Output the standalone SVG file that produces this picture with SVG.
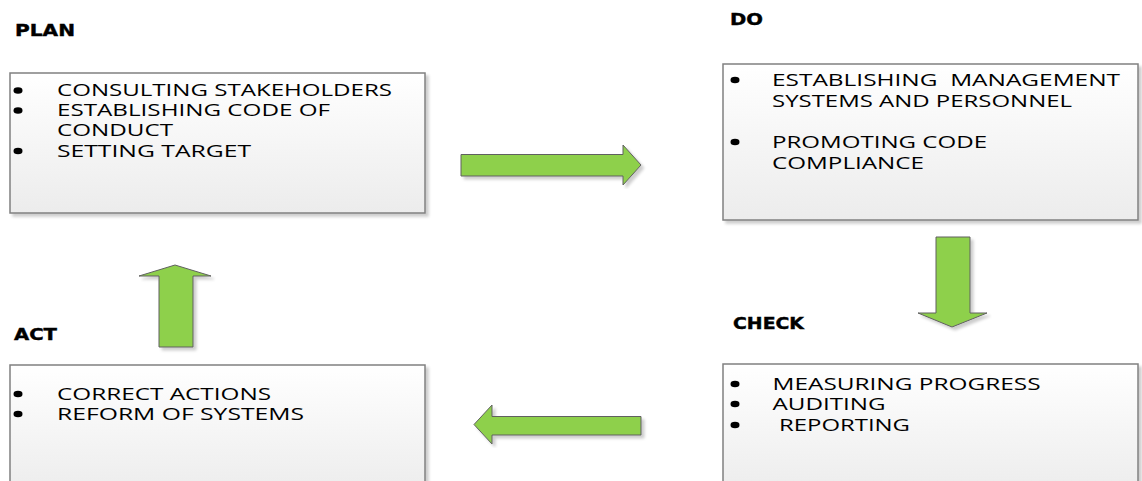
<svg xmlns="http://www.w3.org/2000/svg" width="1142" height="481" viewBox="0 0 1142 481">
<defs>
<linearGradient id="boxfill" x1="0" y1="0" x2="0" y2="1">
<stop offset="0" stop-color="#ffffff"/>
<stop offset="1" stop-color="#ececec"/>
</linearGradient>
<filter id="sh" x="-5%" y="-5%" width="115%" height="115%">
<feGaussianBlur in="SourceAlpha" stdDeviation="1.5"/>
<feOffset dx="3" dy="3" result="b"/>
<feComponentTransfer><feFuncA type="linear" slope="0.2"/></feComponentTransfer>
<feMerge><feMergeNode/><feMergeNode in="SourceGraphic"/></feMerge>
</filter>
</defs>
<style>
.box{fill:url(#boxfill);stroke:#808080;stroke-width:1.5;filter:url(#sh)}
.arrow{fill:#8ed04b;stroke:#606060;stroke-width:1;filter:url(#sh)}
.title{font-family:"DejaVu Sans",sans-serif;font-weight:bold;font-size:15.5px;fill:#000;stroke:#000;stroke-width:0.4}
.item{font-family:"Open Sans","Liberation Sans",sans-serif;font-size:16px;fill:#000}
.bul{fill:#000}
</style>
<rect width="1142" height="481" fill="#ffffff"/>

<g id="plan">
<text class="title" x="15" y="35.5" textLength="60" lengthAdjust="spacingAndGlyphs">PLAN</text>
<rect class="box" x="10" y="73" width="415" height="140"/>
<ellipse class="bul" cx="18" cy="90.5" rx="4.5" ry="3.2"/>
<ellipse class="bul" cx="18" cy="110.5" rx="4.5" ry="3.2"/>
<ellipse class="bul" cx="18" cy="151" rx="4.5" ry="3.2"/>
<text class="item" x="57" y="96" textLength="335" lengthAdjust="spacingAndGlyphs">CONSULTING STAKEHOLDERS</text>
<text class="item" x="57" y="116" textLength="273" lengthAdjust="spacingAndGlyphs">ESTABLISHING CODE OF</text>
<text class="item" x="57" y="136" textLength="116" lengthAdjust="spacingAndGlyphs">CONDUCT</text>
<text class="item" x="57" y="156.5" textLength="194" lengthAdjust="spacingAndGlyphs">SETTING TARGET</text>
</g>

<g id="do">
<text class="title" x="730" y="25" textLength="33" lengthAdjust="spacingAndGlyphs">DO</text>
<rect class="box" x="723" y="64" width="415" height="156"/>
<ellipse class="bul" cx="735" cy="80" rx="4.5" ry="3.2"/>
<ellipse class="bul" cx="735" cy="142" rx="4.5" ry="3.2"/>
<text class="item" x="772" y="86" textLength="348" lengthAdjust="spacingAndGlyphs" xml:space="preserve">ESTABLISHING  MANAGEMENT</text>
<text class="item" x="772" y="107" textLength="300" lengthAdjust="spacingAndGlyphs">SYSTEMS AND PERSONNEL</text>
<text class="item" x="772" y="148" textLength="215" lengthAdjust="spacingAndGlyphs">PROMOTING CODE</text>
<text class="item" x="772" y="169" textLength="152" lengthAdjust="spacingAndGlyphs">COMPLIANCE</text>
</g>

<g id="check">
<text class="title" x="733" y="329" textLength="71" lengthAdjust="spacingAndGlyphs">CHECK</text>
<rect class="box" x="723" y="364" width="415" height="130"/>
<ellipse class="bul" cx="735" cy="384" rx="4.5" ry="3.2"/>
<ellipse class="bul" cx="735" cy="404" rx="4.5" ry="3.2"/>
<ellipse class="bul" cx="735" cy="425" rx="4.5" ry="3.2"/>
<text class="item" x="772.5" y="390" textLength="268" lengthAdjust="spacingAndGlyphs">MEASURING PROGRESS</text>
<text class="item" x="772.5" y="410" textLength="113" lengthAdjust="spacingAndGlyphs">AUDITING</text>
<text class="item" x="779" y="431" textLength="131" lengthAdjust="spacingAndGlyphs">REPORTING</text>
</g>

<g id="act">
<text class="title" x="14" y="340" textLength="43" lengthAdjust="spacingAndGlyphs">ACT</text>
<rect class="box" x="10" y="365" width="415" height="130"/>
<ellipse class="bul" cx="18" cy="394" rx="4.5" ry="3.2"/>
<ellipse class="bul" cx="18" cy="414" rx="4.5" ry="3.2"/>
<text class="item" x="57" y="400" textLength="214" lengthAdjust="spacingAndGlyphs">CORRECT ACTIONS</text>
<text class="item" x="57" y="420" textLength="247" lengthAdjust="spacingAndGlyphs">REFORM OF SYSTEMS</text>
</g>

<g id="connectors">
<path class="arrow" d="M461,154.5 L623,154.5 L623,145 L641,165 L623,185 L623,176 L461,176 Z"/>
<path class="arrow" d="M936,237 L970,237 L970,313 L987,313 L952,327 L918,313 L936,313 Z"/>
<path class="arrow" d="M641,416.5 L492,416.5 L492,405 L474,424.5 L492,444 L492,435 L641,435 Z"/>
<path class="arrow" d="M159,347 L159,276 L139,276 L175,265 L211,276 L193,276 L193,347 Z"/>
</g>
</svg>
